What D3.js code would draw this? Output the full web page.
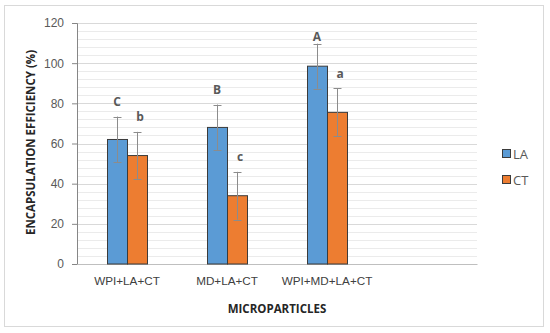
<!DOCTYPE html>
<html>
<head>
<meta charset="utf-8">
<script src="https://cdn.jsdelivr.net/npm/d3@7"></script>
<style>
  body { margin: 0; background: #fff; }
  svg { font-family: "Open Sans", sans-serif; }
</style>
</head>
<body>
<svg id="chart"></svg>
<script>
// Chart size matches the window
const width = 550;
const height = 333;

// Data
const categories = ["WPI+LA+CT", "MD+LA+CT", "WPI+MD+LA+CT", ""]; // last slot is empty in the original
const series = ["LA", "CT"];
const laValues = [62, 68, 98.5];
const ctValues = [54, 34, 75.5];
const laErrors = [11.4, 11.4, 11.2];
const ctErrors = [11.8, 11.9, 11.9];
const laLetters = ["C", "B", "A"];
const ctLetters = ["b", "c", "a"];
const yTicks = [0, 20, 40, 60, 80, 100, 120];

const colors = { LA: "#5B9BD5", CT: "#ED7D31" };

const margin = { top: 23, right: 73, bottom: 69, left: 77 };

const svg = d3.select("#chart")
    .attr("width", width)
    .attr("height", height);

// Outer frame
svg.append("rect")
    .attr("x", 4.5)
    .attr("y", 5.5)
    .attr("width", 539)
    .attr("height", 321)
    .attr("fill", "#fff")
    .attr("stroke", "#d9d9d9")
    .attr("stroke-width", 1);

const x0 = d3.scaleBand()
    .domain(categories)
    .range([margin.left, width - margin.right]);

const x1 = d3.scaleBand()
    .domain(series)
    .range([0, 40]);

const y = d3.scaleLinear()
    .domain([0, 120])
    .range([height - margin.bottom, margin.top]);

// Minor gridlines every 4
svg.append("g")
    .selectAll("line")
    .data(d3.range(4, 120, 4).filter(v => v % 20 !== 0))
    .enter()
    .append("line")
    .attr("x1", margin.left)
    .attr("x2", width - margin.right)
    .attr("y1", d => Math.round(y(d)) + 0.5)
    .attr("y2", d => Math.round(y(d)) + 0.5)
    .attr("stroke", "#ebebeb");

// Major gridlines
svg.append("g")
    .selectAll("line")
    .data(yTicks.slice(1))
    .enter()
    .append("line")
    .attr("x1", margin.left)
    .attr("x2", width - margin.right)
    .attr("y1", d => Math.round(y(d)) + 0.5)
    .attr("y2", d => Math.round(y(d)) + 0.5)
    .attr("stroke", "#d9d9d9");

// Y axis
const yAxis = svg.append("g")
    .attr("transform", `translate(${margin.left},0)`)
    .call(d3.axisLeft(y).tickValues(yTicks).tickSize(5).tickPadding(8));
yAxis.select(".domain").attr("stroke", "#868686");
yAxis.selectAll(".tick line").attr("stroke", "#868686");
yAxis.selectAll("text")
    .attr("fill", "#595959")
    .style("font-size", "12px");

// X axis (no tick marks)
const xAxis = svg.append("g")
    .attr("transform", `translate(0,${height - margin.bottom})`)
    .call(d3.axisBottom(x0).tickSize(0).tickPadding(13));
xAxis.select(".domain").attr("stroke", "#bfbfbf");
xAxis.selectAll("text")
    .attr("fill", "#404040")
    .style("font-size", "11.7px");

// Bars
const rows = categories.slice(0, 3).map((c, i) => ({
    cat: c,
    items: [
        { key: "LA", value: laValues[i], err: laErrors[i], letter: laLetters[i] },
        { key: "CT", value: ctValues[i], err: ctErrors[i], letter: ctLetters[i] }
    ]
}));

const groups = svg.append("g")
    .selectAll("g")
    .data(rows)
    .enter()
    .append("g")
    .attr("transform", d => `translate(${x0(d.cat) + x0.bandwidth() / 2 - 20},0)`);

groups.selectAll("rect")
    .data(d => d.items)
    .enter()
    .append("rect")
    .attr("x", d => x1(d.key) + 0.5)
    .attr("y", d => y(d.value))
    .attr("width", x1.bandwidth())
    .attr("height", d => y(0) - y(d.value))
    .attr("fill", d => colors[d.key])
    .attr("stroke", "#3b3b3b")
    .attr("stroke-width", 1);

// Error bars
const err = groups.selectAll("g.err")
    .data(d => d.items)
    .enter()
    .append("g")
    .attr("class", "err")
    .attr("stroke", "#8c8c8c")
    .attr("stroke-width", 1);

err.append("line")
    .attr("x1", d => x1(d.key) + x1.bandwidth() / 2 + 0.5)
    .attr("x2", d => x1(d.key) + x1.bandwidth() / 2 + 0.5)
    .attr("y1", d => y(d.value - d.err))
    .attr("y2", d => y(d.value + d.err));

[-1, 1].forEach(s => {
    err.append("line")
        .attr("x1", d => x1(d.key) + x1.bandwidth() / 2 + 0.5 - 4)
        .attr("x2", d => x1(d.key) + x1.bandwidth() / 2 + 0.5 + 4)
        .attr("y1", d => Math.round(y(d.value + s * d.err)) + 0.5)
        .attr("y2", d => Math.round(y(d.value + s * d.err)) + 0.5);
});

// Significance letters above error bars (kept inside the plot top)
groups.selectAll("text")
    .data(d => d.items)
    .enter()
    .append("text")
    .attr("x", d => x1(d.key) + x1.bandwidth() / 2 + (d.key === "CT" ? 3 : 0))
    .attr("y", d => Math.max(y(d.value + d.err) - 10.5, y(111)))
    .attr("text-anchor", "middle")
    .attr("fill", "#595959")
    .style("font-size", "12px")
    .style("font-weight", "bold")
    .text(d => d.letter);

// Axis titles
svg.append("text")
    .attr("transform", `translate(35,${(y(0) + y(120)) / 2 - 1}) rotate(-90)`)
    .attr("text-anchor", "middle")
    .attr("fill", "#262626")
    .style("font-size", "11.5px")
    .style("font-weight", "bold")
    .text("ENCAPSULATION EFFICIENCY (%)");

svg.append("text")
    .attr("x", (margin.left + width - margin.right) / 2)
    .attr("y", 313)
    .attr("text-anchor", "middle")
    .attr("fill", "#262626")
    .style("font-size", "11.5px")
    .style("font-weight", "bold")
    .text("MICROPARTICLES");

// Legend
const legend = svg.append("g")
    .selectAll("g")
    .data(series)
    .enter()
    .append("g")
    .attr("transform", (d, i) => `translate(502,${149 + i * 26})`);

legend.append("rect")
    .attr("x", 0.5)
    .attr("y", 0.5)
    .attr("width", 8)
    .attr("height", 8)
    .attr("fill", d => colors[d])
    .attr("stroke", "#3b3b3b");

legend.append("text")
    .attr("x", 11)
    .attr("y", 9.5)
    .attr("fill", "#595959")
    .style("font-size", "13px")
    .text(d => d);
</script>
</body>
</html>
